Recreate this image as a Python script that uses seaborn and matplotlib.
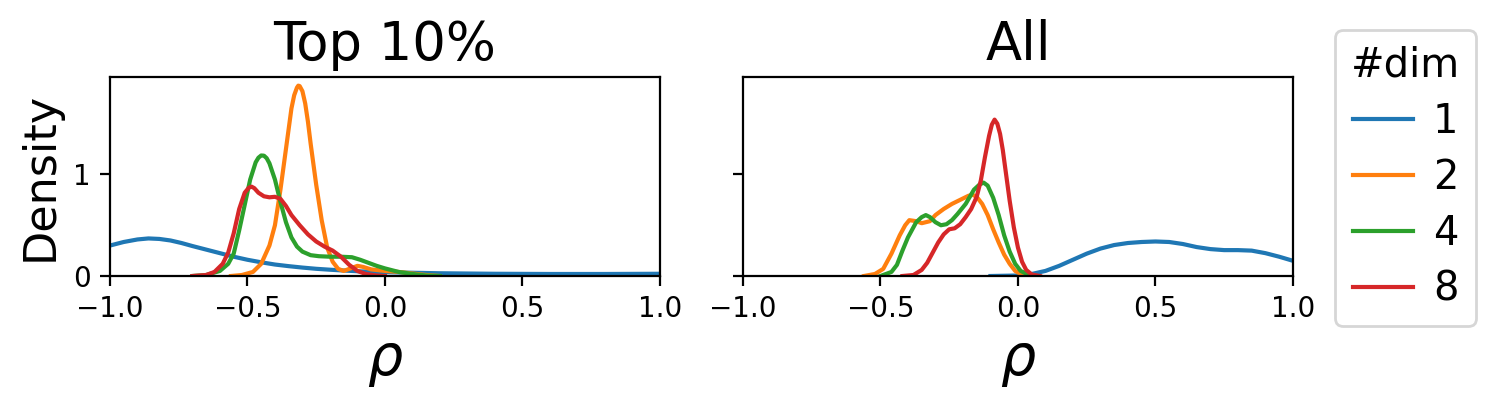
import numpy as np
import pandas as pd
import matplotlib
matplotlib.use("Agg")
import matplotlib.pyplot as plt
from matplotlib.lines import Line2D
import seaborn as sns

# ---------------- data ----------------
dims = ["1", "2", "4", "8"]
panels = ["Top 10%", "All"]
xticks = [-1.0, -0.5, 0.0, 0.5, 1.0]
yticks = [0, 1]

# Top 10%
top_x_1 = [-1.0, -0.95, -0.9, -0.86, -0.82, -0.78, -0.74, -0.7, -0.65, -0.6, -0.55, -0.5, -0.45, -0.4,
           -0.35, -0.3, -0.25, -0.2, -0.15, -0.1, -0.05, 0.0, 0.1, 0.2, 0.4, 0.6, 0.8, 1.0]
top_y_1 = [0.30, 0.335, 0.36, 0.37, 0.365, 0.35, 0.325, 0.295, 0.26, 0.225, 0.19, 0.16, 0.135, 0.113,
           0.097, 0.083, 0.071, 0.062, 0.054, 0.047, 0.042, 0.038, 0.032, 0.027, 0.022, 0.02, 0.02, 0.022]

top_x_2 = [-0.56, -0.52, -0.48, -0.45, -0.42, -0.40, -0.38, -0.36, -0.34, -0.33, -0.32, -0.315, -0.31,
           -0.30, -0.29, -0.28, -0.27, -0.25, -0.23, -0.21, -0.19, -0.17, -0.15, -0.12, -0.10, -0.08,
           -0.05, 0.0, 0.05, 0.1, 0.15, 0.2]
top_y_2 = [0.0, 0.01, 0.04, 0.12, 0.30, 0.50, 0.85, 1.25, 1.65, 1.78, 1.855, 1.875, 1.87,
           1.82, 1.70, 1.52, 1.30, 0.90, 0.55, 0.28, 0.14, 0.07, 0.05, 0.08, 0.10, 0.09,
           0.065, 0.05, 0.04, 0.025, 0.01, 0.0]

top_x_4 = [-0.70, -0.65, -0.60, -0.57, -0.55, -0.53, -0.51, -0.49, -0.47, -0.46, -0.45, -0.44, -0.43,
           -0.42, -0.40, -0.38, -0.36, -0.34, -0.32, -0.30, -0.27, -0.24, -0.20, -0.16, -0.12, -0.09,
           -0.06, -0.03, 0.0, 0.05, 0.1, 0.15, 0.2]
top_y_4 = [0.0, 0.01, 0.05, 0.12, 0.22, 0.45, 0.70, 0.95, 1.12, 1.165, 1.187, 1.185, 1.16,
           1.11, 0.95, 0.73, 0.53, 0.38, 0.29, 0.24, 0.205, 0.195, 0.19, 0.19, 0.185, 0.16,
           0.13, 0.10, 0.075, 0.04, 0.02, 0.005, 0.0]

top_x_8 = [-0.70, -0.65, -0.62, -0.59, -0.57, -0.55, -0.53, -0.51, -0.495, -0.485, -0.475, -0.46, -0.44,
           -0.42, -0.40, -0.38, -0.36, -0.34, -0.31, -0.28, -0.25, -0.22, -0.19, -0.16, -0.13, -0.10,
           -0.07, -0.03, 0.0]
top_y_8 = [0.0, 0.01, 0.04, 0.12, 0.23, 0.42, 0.66, 0.82, 0.87, 0.88, 0.865, 0.82, 0.785,
           0.775, 0.78, 0.76, 0.69, 0.60, 0.50, 0.41, 0.34, 0.29, 0.25, 0.19, 0.11, 0.05,
           0.02, 0.005, 0.0]

# All
all_x_1 = [-0.10, 0.0, 0.05, 0.1, 0.15, 0.2, 0.25, 0.3, 0.35, 0.4, 0.45, 0.5, 0.55, 0.6, 0.65, 0.7,
           0.75, 0.8, 0.85, 0.9, 0.95, 1.0]
all_y_1 = [0.0, 0.005, 0.02, 0.05, 0.10, 0.16, 0.22, 0.27, 0.305, 0.325, 0.335, 0.34, 0.335, 0.315,
           0.285, 0.265, 0.255, 0.255, 0.25, 0.225, 0.19, 0.15]

all_x_2 = [-0.56, -0.52, -0.49, -0.46, -0.43, -0.41, -0.395, -0.37, -0.35, -0.32, -0.30, -0.27, -0.24,
           -0.21, -0.18, -0.165, -0.15, -0.13, -0.11, -0.09, -0.07, -0.05, -0.03, -0.01, 0.01, 0.04]
all_y_2 = [0.0, 0.02, 0.07, 0.22, 0.40, 0.50, 0.55, 0.54, 0.52, 0.54, 0.60, 0.66, 0.71,
           0.75, 0.79, 0.80, 0.78, 0.71, 0.60, 0.46, 0.33, 0.21, 0.12, 0.05, 0.02, 0.0]

all_x_4 = [-0.50, -0.46, -0.44, -0.42, -0.40, -0.37, -0.35, -0.335, -0.32, -0.30, -0.28, -0.26, -0.24,
           -0.22, -0.19, -0.16, -0.14, -0.125, -0.11, -0.09, -0.07, -0.05, -0.03, -0.01, 0.01, 0.04, 0.07]
all_y_4 = [0.0, 0.04, 0.11, 0.25, 0.38, 0.53, 0.58, 0.60, 0.58, 0.53, 0.50, 0.51, 0.55,
           0.61, 0.71, 0.85, 0.90, 0.92, 0.89, 0.77, 0.60, 0.40, 0.24, 0.12, 0.05, 0.01, 0.0]

all_x_8 = [-0.42, -0.38, -0.35, -0.33, -0.31, -0.29, -0.27, -0.25, -0.23, -0.21, -0.19, -0.17, -0.15,
           -0.135, -0.12, -0.105, -0.095, -0.085, -0.075, -0.065, -0.055, -0.045, -0.03, -0.015, 0.0,
           0.015, 0.03, 0.05, 0.08]
all_y_8 = [0.0, 0.01, 0.06, 0.13, 0.23, 0.33, 0.41, 0.46, 0.47, 0.51, 0.58, 0.66, 0.78,
           0.94, 1.17, 1.38, 1.49, 1.54, 1.50, 1.40, 1.24, 1.04, 0.74, 0.48, 0.28,
           0.14, 0.06, 0.015, 0.0]

# ---------------- build tables ----------------
series = {
    ("Top 10%", "1"): (top_x_1, top_y_1),
    ("Top 10%", "2"): (top_x_2, top_y_2),
    ("Top 10%", "4"): (top_x_4, top_y_4),
    ("Top 10%", "8"): (top_x_8, top_y_8),
    ("All", "1"): (all_x_1, all_y_1),
    ("All", "2"): (all_x_2, all_y_2),
    ("All", "4"): (all_x_4, all_y_4),
    ("All", "8"): (all_x_8, all_y_8),
}
rows = []
for (panel, d), (xs, ys) in series.items():
    for xv, yv in zip(xs, ys):
        rows.append({"panel": panel, "dim": d, "rho": xv, "density": yv})
df = pd.DataFrame(rows)

colors = sns.color_palette("tab10", 4)
palette = dict(zip(dims, colors))

# ---------------- figure ----------------
fig = plt.figure(figsize=(7.47, 2.025), dpi=200)
ax_w, ax_h, ax_b = 0.3681, 0.4914, 0.3185
ax1 = fig.add_axes([0.0736, ax_b, ax_w, ax_h])
ax2 = fig.add_axes([0.4973, ax_b, ax_w, ax_h], sharey=ax1)

for ax, panel in zip([ax1, ax2], panels):
    sub = df[df["panel"] == panel]
    sns.lineplot(data=sub, x="rho", y="density", hue="dim", hue_order=dims,
                 palette=palette, estimator=None, sort=True, lw=1.5,
                 legend=False, ax=ax)
    ax.set_xlim(-1.0, 1.0)
    ax.set_ylim(0, 1.96)
    ax.set_xticks(xticks)
    ax.set_yticks(yticks)
    ax.tick_params(labelsize=10)
    ax.set_title(panel, fontsize=19)
    ax.set_xlabel(r"$\rho$", fontsize=20)

ax1.set_ylabel("Density", fontsize=16)
ax2.set_ylabel("")
ax2.tick_params(labelleft=False)

handles = [Line2D([0], [0], color=palette[d], lw=1.5) for d in dims]
fig.legend(handles, dims, title="#dim", loc="upper left",
           bbox_to_anchor=(0.8936, 0.926), borderaxespad=0,
           fontsize=14.4, title_fontsize=14.4, handlelength=1.5,
           handletextpad=0.5, labelspacing=0.4, frameon=True)

fig.savefig("out.png", dpi=200)
